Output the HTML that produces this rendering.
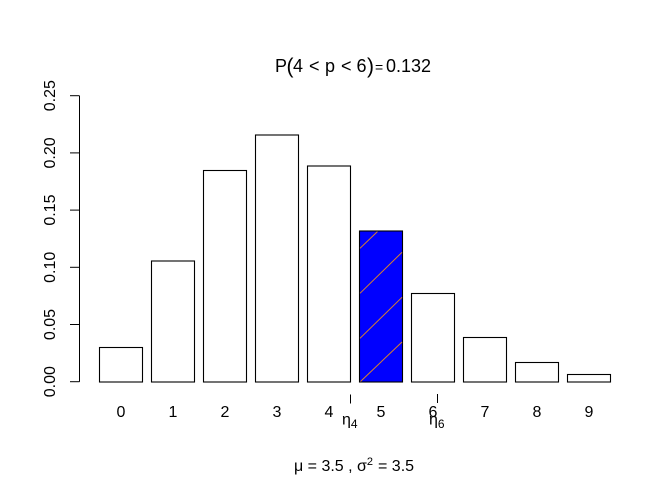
<!DOCTYPE html>
<html><head><meta charset="utf-8"><style>
html,body{margin:0;padding:0;background:#fff;}
svg{display:block;}
text{font-family:"Liberation Sans",Arial,sans-serif;fill:#000;}
</style></head><body>
<svg width="672" height="480" viewBox="0 0 672 480" xmlns="http://www.w3.org/2000/svg">
<rect width="672" height="480" fill="#fff"/>
<!-- title -->
<g font-size="18">
<text x="275" y="72">P</text>
<text x="286.5" y="73" font-size="21">(</text>
<text x="293" y="72">4</text>
<text x="309" y="72">&lt;</text>
<text x="325" y="72">p</text>
<text x="341" y="72">&lt;</text>
<text x="356.5" y="72">6</text>
<text x="367" y="73" font-size="21">)</text>
<text x="375" y="72" font-size="14">=</text>
<text x="386" y="72">0.132</text>
</g>
<!-- y axis -->
<g stroke="#000" stroke-width="1" fill="none">
<line x1="79.5" y1="95.7" x2="79.5" y2="381.7"/>
<line x1="70" y1="381.7" x2="79.5" y2="381.7"/>
<line x1="70" y1="324.5" x2="79.5" y2="324.5"/>
<line x1="70" y1="267.3" x2="79.5" y2="267.3"/>
<line x1="70" y1="210.1" x2="79.5" y2="210.1"/>
<line x1="70" y1="152.9" x2="79.5" y2="152.9"/>
<line x1="70" y1="95.7" x2="79.5" y2="95.7"/>
</g>
<g font-size="16" text-anchor="middle">
<text transform="translate(55,381.7) rotate(-90)">0.00</text>
<text transform="translate(55,324.5) rotate(-90)">0.05</text>
<text transform="translate(55,267.3) rotate(-90)">0.10</text>
<text transform="translate(55,210.1) rotate(-90)">0.15</text>
<text transform="translate(55,152.9) rotate(-90)">0.20</text>
<text transform="translate(55,95.7) rotate(-90)">0.25</text>
</g>
<!-- bars -->
<g stroke="#000" stroke-width="1.1" fill="#fff">
<rect x="99.5" y="347.5" width="43" height="34.5"/>
<rect x="151.5" y="261" width="43" height="121"/>
<rect x="203.5" y="170.5" width="43" height="211.5"/>
<rect x="255.5" y="135" width="43" height="247"/>
<rect x="307.5" y="166" width="43" height="216"/>
<rect x="359.5" y="231" width="43" height="151" fill="#0000ff"/>
<rect x="411.5" y="293.5" width="43" height="88.5"/>
<rect x="463.5" y="337.5" width="43" height="44.5"/>
<rect x="515.5" y="362.5" width="43" height="19.5"/>
<rect x="567.5" y="374.5" width="43" height="7.5"/>
</g>
<!-- hatching -->
<g stroke="#d9822b" stroke-width="1">
<line x1="360" y1="248.3" x2="377.4" y2="231.6"/>
<line x1="360" y1="293.3" x2="402" y2="252.3"/>
<line x1="360" y1="338.3" x2="402" y2="297.3"/>
<line x1="360.5" y1="381.5" x2="402" y2="342"/>
</g>
<!-- x labels -->
<g font-size="16" text-anchor="middle">
<text x="121" y="417">0</text>
<text x="173" y="417">1</text>
<text x="225" y="417">2</text>
<text x="277" y="417">3</text>
<text x="329" y="417">4</text>
<text x="381" y="417">5</text>
<text x="433" y="417">6</text>
<text x="485" y="417">7</text>
<text x="537" y="417">8</text>
<text x="589" y="417">9</text>
</g>
<!-- eta ticks -->
<g stroke="#000" stroke-width="1">
<line x1="350.5" y1="394.5" x2="350.5" y2="403.5"/>
<line x1="437.5" y1="394" x2="437.5" y2="403"/>
</g>
<text x="342" y="424.5" font-size="16">η<tspan font-size="12" dy="3.5">4</tspan></text>
<text x="429" y="424.5" font-size="16">η<tspan font-size="12" dy="3.5">6</tspan></text>
<!-- subtitle -->
<text y="471" font-size="16">
<tspan x="294">μ = 3.5 ,</tspan>
<tspan x="357">σ</tspan><tspan font-size="11" dy="-6">2</tspan>
<tspan x="378" dy="6">= 3.5</tspan>
</text>
</svg>
</body></html>
